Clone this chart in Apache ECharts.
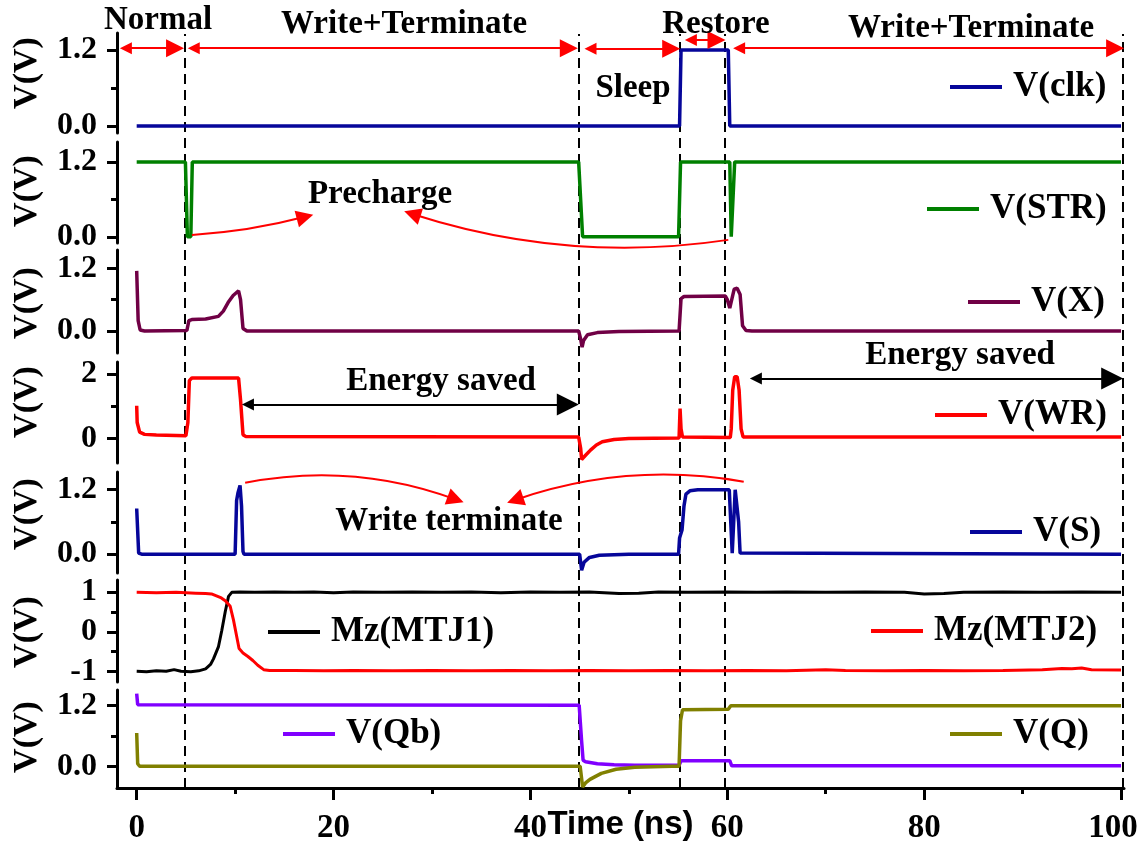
<!DOCTYPE html>
<html><head><meta charset="utf-8">
<script src="https://cdn.jsdelivr.net/npm/echarts@6/dist/echarts.min.js"></script>
<style>html,body{margin:0;padding:0;background:#fff}#c{width:1142px;height:848px}</style>
</head><body><div id="c"></div>
<script>
// ---------- data (time in ns, value in V) ----------
const timeTicks = [0, 20, 40, 60, 80, 100];
const timeMinorTicks = [10, 30, 50, 70, 90];
const phaseLines = [4.9, 44.9, 55.2, 59.7, 100.2];

const clk = [[0,0],[55.15,0],[55.3,1.2],[60.1,1.2],[60.25,0],[100,0]];
const str = [[0,1.2],[4.95,1.2],[5.15,0],[5.5,0],[5.65,1.2],[44.9,1.2],[45.3,0],[55.05,0],[55.25,1.2],[60.25,1.2],[60.4,0],[60.6,0],[60.75,1.2],[100,1.2]];
const vx = [[0,1.15],[0.15,0.2],[0.35,0.02],[0.8,0],[5.1,0.01],[5.3,0.2],[5.6,0.22],[7,0.23],[8.3,0.28],[8.8,0.38],[9.3,0.55],[9.8,0.68],[10.35,0.77],[10.55,0.6],[10.8,0.05],[11.2,0],[44.9,0],[45.1,-0.15],[45.25,-0.31],[45.4,-0.18],[45.8,-0.07],[46.8,-0.03],[49,-0.01],[55.1,0],[55.3,0.62],[55.6,0.66],[59.8,0.67],[60.0,0.6],[60.25,0.44],[60.45,0.6],[60.7,0.8],[61.0,0.82],[61.3,0.7],[61.55,0.1],[61.9,0.01],[62.5,0],[100,0]];
const wr = [[0,1.02],[0.05,0.5],[0.3,0.2],[0.8,0.13],[2,0.11],[5.0,0.09],[5.2,0.5],[5.35,1.8],[5.6,1.88],[10.35,1.88],[10.55,1.2],[10.8,0.12],[11.1,0.06],[44.9,0.05],[45.1,-0.3],[45.2,-0.65],[45.6,-0.52],[46.1,-0.36],[46.7,-0.2],[47.3,-0.1],[48.5,-0.03],[50,0.0],[55.1,0.02],[55.2,0.93],[55.3,0.3],[55.45,0.05],[60.3,0.03],[60.4,0.3],[60.55,1.5],[60.75,1.92],[61.0,1.92],[61.2,1.5],[61.4,0.3],[61.6,0.05],[100,0.05]];
const vs = [[0,0.85],[0.2,0.02],[0.5,0],[5.1,0],[5.2,0.02],[5.3,0],[10.0,0],[10.15,1.0],[10.3,1.15],[10.5,1.28],[10.65,0.9],[10.8,0.05],[10.9,0],[45.0,0],[45.2,-0.3],[45.45,-0.15],[46,-0.06],[47,-0.02],[50,0],[55.05,0],[55.15,0.3],[55.4,0.45],[55.6,0.9],[55.8,1.12],[56.2,1.18],[57,1.2],[60.2,1.2],[60.35,0.6],[60.5,0.02],[60.65,0.6],[60.8,1.2],[61.0,1.21],[61.15,0.6],[61.3,0.02],[61.5,0],[100,0]];
const mz1 = [[0,-0.99],[1,-1.0],[2,-0.98],[3,-0.99],[3.8,-0.95],[4.5,-0.99],[5.5,-1.0],[6.3,-0.98],[7.0,-0.93],[7.5,-0.82],[7.8,-0.68],[8.3,-0.38],[8.65,0.04],[9.0,0.51],[9.33,0.89],[9.66,0.99],[10.5,1.0],[12,0.99],[14,1.0],[16,0.99],[18,1.0],[20,0.98],[22,1.0],[25,0.99],[28,1.0],[31,0.99],[34,1.0],[37,0.98],[40,1.0],[43,0.99],[46,1.0],[49,0.96],[51,0.97],[53,1.0],[56,0.99],[60,1.0],[63,0.99],[66,1.0],[70,0.99],[74,1.0],[78,0.99],[80,0.95],[82,0.96],[84,0.99],[88,1.0],[92,0.99],[96,1.0],[100,0.99]];
const mz2 = [[0,0.99],[2,0.98],[4,0.99],[6,0.97],[7,0.96],[7.6,0.95],[8.1,0.9],[8.6,0.85],[9.0,0.78],[9.5,0.64],[9.83,0.3],[10.17,-0.13],[10.4,-0.42],[10.8,-0.53],[11.3,-0.62],[11.8,-0.72],[12.3,-0.84],[12.9,-0.95],[13.5,-0.97],[16,-0.97],[19,-0.98],[22,-0.97],[26,-0.98],[30,-0.97],[34,-0.98],[38,-0.97],[42,-0.98],[46,-0.97],[50,-0.98],[54,-0.97],[58,-0.98],[62,-0.97],[66,-0.98],[70,-0.95],[72,-0.97],[76,-0.98],[80,-0.97],[84,-0.98],[88,-0.97],[92,-0.95],[94,-0.92],[95,-0.93],[96,-0.91],[97,-0.95],[100,-0.96]];
const qb = [[0,1.44],[0.1,1.22],[0.3,1.21],[44.95,1.21],[45.2,0.5],[45.35,0.12],[45.6,0.09],[46.8,0.05],[48.5,0.03],[50.6,0.02],[55.1,0.02],[55.3,0.11],[60.25,0.11],[60.45,0.01],[100,0.01]];
const q = [[0,0.66],[0.1,0.05],[0.3,0.0],[45.05,0.0],[45.3,-0.41],[45.6,-0.33],[46.05,-0.26],[47.2,-0.14],[48.7,-0.06],[50.6,-0.02],[54.4,0.0],[55.1,0.0],[55.25,0.9],[55.45,1.12],[60.1,1.13],[60.35,1.2],[100,1.2]];

// phase arrows at the top: [from, to, level]
const phaseArrows = [[-1.1,3.9,1.23],[5.8,43.9,1.23],[46.1,54.3,1.22],[56.3,58.9,1.36],[61.2,99.4,1.23]];
// annotation arrows: [x1,y1,x2,y2,curveness]
const prechargeArrows = [[5.61,0.03,17.1,0.32,-0.05],[60.1,-0.05,28.0,0.366,0.117]];
const terminateArrows = [[11.02,1.33,32.4,1.02,0.14],[61.67,1.35,38.45,1.01,-0.13]];
const energyArrows = [[11.3,43.8,1.06],[62.9,99.1,1.87]];

// ---------- layout ----------
const SERIF = '"Liberation Serif","Times New Roman",serif';
const LEFT = 117, RIGHT = 18, XMIN = -2, XMAX = 100.3;
const panels = [
  {top:33, h:100, min:-0.11, max:1.47, ticks:[0,1.2], minor:[0.6], dec:1, vy:73},
  {top:142, h:101, min:-0.1, max:1.52, ticks:[0,1.2], minor:[0.6], dec:1, vy:191},
  {top:250, h:103, min:-0.42, max:1.55, ticks:[0,1.2], minor:[0.6], dec:1, vy:303},
  {top:362, h:101, min:-0.76, max:2.38, ticks:[0,2], minor:[1], dec:0, vy:402},
  {top:472, h:101, min:-0.35, max:1.53, ticks:[0,1.2], minor:[0.6], dec:1, vy:514},
  {top:580, h:102, min:-1.26, max:1.30, ticks:[-1,0,1], minor:[-0.5,0.5], dec:0, vy:632},
  {top:690, h:98, min:-0.43, max:1.51, ticks:[0,1.2], minor:[0.6], dec:1, vy:737}
];
const traces = [
  {name:'V(clk)', data:clk, p:0, color:'#06069a', w:3.5},
  {name:'V(STR)', data:str, p:1, color:'#008000', w:3.5},
  {name:'V(X)', data:vx, p:2, color:'#700045', w:3.5},
  {name:'V(WR)', data:wr, p:3, color:'#ff0000', w:3.5},
  {name:'V(S)', data:vs, p:4, color:'#06069a', w:3.5},
  {name:'Mz(MTJ1)', data:mz1, p:5, color:'#000000', w:3},
  {name:'Mz(MTJ2)', data:mz2, p:5, color:'#ff0000', w:3},
  {name:'V(Qb)', data:qb, p:6, color:'#8000ff', w:3.5},
  {name:'V(Q)', data:q, p:6, color:'#808000', w:3.5}
];
const legendPos = {
  'V(clk)':[950,87], 'V(STR)':[927,209], 'V(X)':[968,302], 'V(WR)':[935,415], 'V(S)':[970,532],
  'Mz(MTJ1)':[268,632], 'Mz(MTJ2)':[871,631], 'V(Qb)':[283,734], 'V(Q)':[950,734]
};
const annotations = [
  {text:'Normal', x:158, y:20}, {text:'Write+Terminate', x:404, y:24},
  {text:'Restore', x:716, y:24}, {text:'Write+Terminate', x:971, y:28},
  {text:'Sleep', x:633, y:88}, {text:'Precharge', x:380, y:194},
  {text:'Energy saved', x:441, y:381}, {text:'Energy saved', x:960, y:355},
  {text:'Write terminate', x:449, y:521}
];

const grid = [], xAxis = [], yAxis = [], series = [];
panels.forEach((p, i) => {
  grid.push({left:LEFT, right:RIGHT, top:p.top, height:p.h, outerBoundsMode:'none', containLabel:false});
  const bottom = i === panels.length - 1;
  xAxis.push({type:'value', gridIndex:i, min:XMIN, max:XMAX, show:bottom, position:'bottom',
    axisLine:{show:true, onZero:false, lineStyle:{color:'#000', width:3}},
    axisTick:{show:true, customValues:timeTicks, length:12, inside:false, lineStyle:{color:'#000', width:3}},
    axisLabel:{show:true, customValues:timeTicks, margin:24, color:'#000', fontFamily:SERIF, fontWeight:'bold', fontSize:33,
      formatter:v=> v === 100 ? '{r|100}' : String(v),
      rich:{r:{color:'#000', fontFamily:SERIF, fontWeight:'bold', fontSize:33, padding:[0,16,0,0]}}},
    splitLine:{show:false},
    name: bottom ? 'Time (ns)' : '', nameLocation:'middle', nameGap:20, nameMoveOverlap:false,
    nameTextStyle:{color:'#000', fontFamily:'"Liberation Sans",Arial,sans-serif', fontWeight:'bold', fontSize:33}
  });
  yAxis.push({type:'value', gridIndex:i, min:p.min, max:p.max, position:'left',
    axisLine:{show:true, onZero:false, lineStyle:{color:'#000', width:3}},
    axisTick:{show:true, customValues:p.ticks, length:10, lineStyle:{color:'#000', width:3}},
    axisLabel:{show:true, customValues:p.ticks, margin:20, color:'#000', fontFamily:SERIF, fontWeight:'bold', fontSize:32,
      formatter:v=>Number(v).toFixed(p.dec)},
    splitLine:{show:false}});
  yAxis.push({type:'value', gridIndex:i, min:p.min, max:p.max, position:'left',
    axisLine:{show:false, onZero:false}, axisLabel:{show:false}, splitLine:{show:false},
    axisTick:{show:true, customValues:p.minor, length:6, lineStyle:{color:'#000', width:3}}});
});
// minor ticks on bottom time axis
xAxis.push({type:'value', gridIndex:6, min:XMIN, max:XMAX, position:'bottom',
  axisLine:{show:false, onZero:false}, axisLabel:{show:false}, splitLine:{show:false},
  axisTick:{show:true, customValues:timeMinorTicks, length:6, lineStyle:{color:'#000', width:3}}});
// overlay grid for phase separators
grid.push({left:LEFT, right:RIGHT, top:34, bottom:848-788, outerBoundsMode:'none', containLabel:false});
xAxis.push({type:'value', gridIndex:7, min:XMIN, max:XMAX, show:false});
yAxis.push({type:'value', gridIndex:7, min:0, max:1, show:false});
const overlayX = xAxis.length - 1, overlayY = yAxis.length - 1;

series.push({type:'lines', coordinateSystem:'cartesian2d', xAxisIndex:overlayX, yAxisIndex:overlayY,
  silent:true, z:1, symbol:'none', clip:false,
  lineStyle:{color:'#000', width:2, type:[10,6], opacity:1},
  data: phaseLines.map(t => ({coords:[[t,0],[t,1]]}))});

traces.forEach(t => {
  series.push({type:'line', name:t.name, xAxisIndex:t.p, yAxisIndex:2*t.p, data:t.data,
    showSymbol:false, symbol:'none', animation:false, z:3,
    itemStyle:{color:t.color}, lineStyle:{color:t.color, width:t.w}});
});

const arrowBase = {type:'lines', coordinateSystem:'cartesian2d', polyline:false, silent:true, clip:false, z:5, animation:false};
series.push(Object.assign({}, arrowBase, {xAxisIndex:0, yAxisIndex:0,
  symbol:['triangle','triangle'], symbolSize:[12,18],
  lineStyle:{color:'#ff0000', width:2, opacity:1, curveness:0},
  data: phaseArrows.map(a => ({coords:[[a[0],a[2]],[a[1],a[2]]]}))}));
series.push(Object.assign({}, arrowBase, {xAxisIndex:1, yAxisIndex:2,
  symbol:['none','triangle'], symbolSize:[11,17],
  lineStyle:{color:'#ff0000', width:2, opacity:1},
  data: prechargeArrows.map(a => ({coords:[[a[0],a[1]],[a[2],a[3]]], lineStyle:{curveness:a[4]}}))}));
series.push(Object.assign({}, arrowBase, {xAxisIndex:4, yAxisIndex:8,
  symbol:['none','triangle'], symbolSize:[11,17],
  lineStyle:{color:'#ff0000', width:2, opacity:1},
  data: terminateArrows.map(a => ({coords:[[a[0],a[1]],[a[2],a[3]]], lineStyle:{curveness:a[4]}}))}));
series.push(Object.assign({}, arrowBase, {xAxisIndex:3, yAxisIndex:6,
  symbol:['triangle','triangle'], symbolSize:[12,22],
  lineStyle:{color:'#000', width:2, opacity:1, curveness:0},
  data: energyArrows.map(a => ({coords:[[a[0],a[2]],[a[1],a[2]]]}))}));

const legend = traces.map(t => ({
  data:[t.name], left:legendPos[t.name][0], top:legendPos[t.name][1]-18,
  icon:'rect', itemWidth:52, itemHeight:4, itemGap:0, padding:0, selectedMode:false,
  textStyle:{color:'#000', fontFamily:SERIF, fontWeight:'bold', fontSize:35, lineHeight:36, padding:[0,0,0,6]}
}));

const graphic = [];
panels.forEach(p => graphic.push({type:'text', x:27.5, y:p.vy, rotation:Math.PI/2, silent:true,
  style:{text:'V(V)', font:'bold 34px ' + SERIF, align:'center', verticalAlign:'middle', fill:'#000'}}));
annotations.forEach(a => graphic.push({type:'text', x:a.x, y:a.y, silent:true, z:10,
  style:{text:a.text, font:'bold 33px ' + SERIF, align:'center', verticalAlign:'middle', fill:'#000'}}));

const chart = echarts.init(document.getElementById('c'), null, {renderer:'canvas'});
chart.setOption({animation:false, backgroundColor:'#fff', grid, xAxis, yAxis, series, legend, graphic});
</script></body></html>
